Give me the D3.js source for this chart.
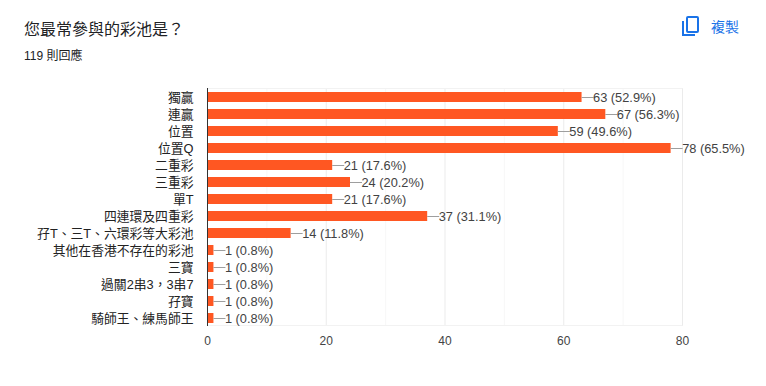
<!DOCTYPE html>
<html><head><meta charset="utf-8">
<script src="https://cdn.jsdelivr.net/npm/d3@7"></script>
<style>html,body{margin:0;padding:0;background:#fff}svg{display:block}
text{font-family:"Liberation Sans","Noto Sans CJK TC",sans-serif}</style></head>
<body><svg id="c" width="766" height="386"></svg>
<script>
const categories=["獨贏","連贏","位置","位置Q","二重彩","三重彩","單T","四連環及四重彩","孖T、三T、六環彩等大彩池","其他在香港不存在的彩池","三寶","過關2串3，3串7","孖寶","騎師王、練馬師王"];
const counts=[63,67,59,78,21,24,21,37,14,1,1,1,1,1];
const percents=["52.9%","56.3%","49.6%","65.5%","17.6%","20.2%","17.6%","31.1%","11.8%","0.8%","0.8%","0.8%","0.8%","0.8%"];
const xTicks=[0,20,40,60,80];
const minorTicks=[10,30,50,70];
const title="您最常參與的彩池是？";
const subtitle="119 則回應";
const copyLabel="複製";

const svg=d3.select("#c");
const x=d3.scaleLinear().domain([0,80]).range([207.5,682.5]);
const y=d3.scaleBand().domain(categories).range([88.3,326]).paddingInner(0.41).paddingOuter(0.205);

svg.append("text").attr("x",24).attr("y",35).attr("font-size",16).attr("fill","#202124").text(title);
svg.append("text").attr("x",24).attr("y",60).attr("font-size",12).attr("fill","#202124").text(subtitle);

// copy icon
const icon=svg.append("g").attr("fill","none").attr("stroke","#1a73e8").attr("stroke-width",2);
icon.append("rect").attr("x",687).attr("y",17).attr("width",11).attr("height",15).attr("rx",1);
icon.append("path").attr("d","M683,21V35H695");
svg.append("text").attr("x",711).attr("y",32).attr("font-size",14).attr("fill","#1a73e8").text(copyLabel);

// grid
svg.append("g").selectAll("line").data(minorTicks).join("line")
 .attr("x1",d=>x(d)).attr("x2",d=>x(d)).attr("y1",88).attr("y2",326).attr("stroke","#f7f7f7");
svg.append("g").selectAll("line").data(xTicks.slice(1)).join("line")
 .attr("x1",d=>x(d)).attr("x2",d=>x(d)).attr("y1",88).attr("y2",326).attr("stroke","#ebebeb");
svg.append("line").attr("x1",207.5).attr("x2",682.5).attr("y1",88.5).attr("y2",88.5).attr("stroke","#f2f2f2");
svg.append("line").attr("x1",207.5).attr("x2",682.5).attr("y1",325.5).attr("y2",325.5).attr("stroke","#f2f2f2");

const rows=categories.map((c,i)=>({c,v:counts[i],p:percents[i]}));
const barTop=d=>Math.round(y(d));
svg.append("g").selectAll("rect").data(rows).join("rect")
 .attr("x",x(0)).attr("y",d=>barTop(d.c)).attr("width",d=>x(d.v)-x(0)).attr("height",Math.round(y.bandwidth())).attr("fill","#ff5722");
svg.append("g").selectAll("line").data(rows).join("line")
 .attr("x1",d=>x(d.v)).attr("x2",d=>x(d.v)+12)
 .attr("y1",d=>barTop(d.c)+5.5).attr("y2",d=>barTop(d.c)+5.5)
 .attr("stroke","#9e9e9e");
svg.append("g").selectAll("text").data(rows).join("text")
 .attr("x",d=>x(d.v)+11.5).attr("y",d=>barTop(d.c)+9.6)
 .attr("font-size",12.8).attr("fill","#424242").text(d=>`${d.v} (${d.p})`);

svg.append("g").selectAll("text").data(categories).join("text")
 .attr("x",193.5).attr("y",d=>barTop(d)+9.6).attr("text-anchor","end")
 .attr("font-size",12.8).attr("fill","#222").text(d=>d);

svg.append("line").attr("x1",207.5).attr("x2",207.5).attr("y1",88).attr("y2",326).attr("stroke","#333");

svg.append("g").selectAll("text").data(xTicks).join("text")
 .attr("x",d=>x(d)).attr("y",345).attr("text-anchor","middle")
 .attr("font-size",12).attr("fill","#444").text(d=>d);
</script></body></html>
